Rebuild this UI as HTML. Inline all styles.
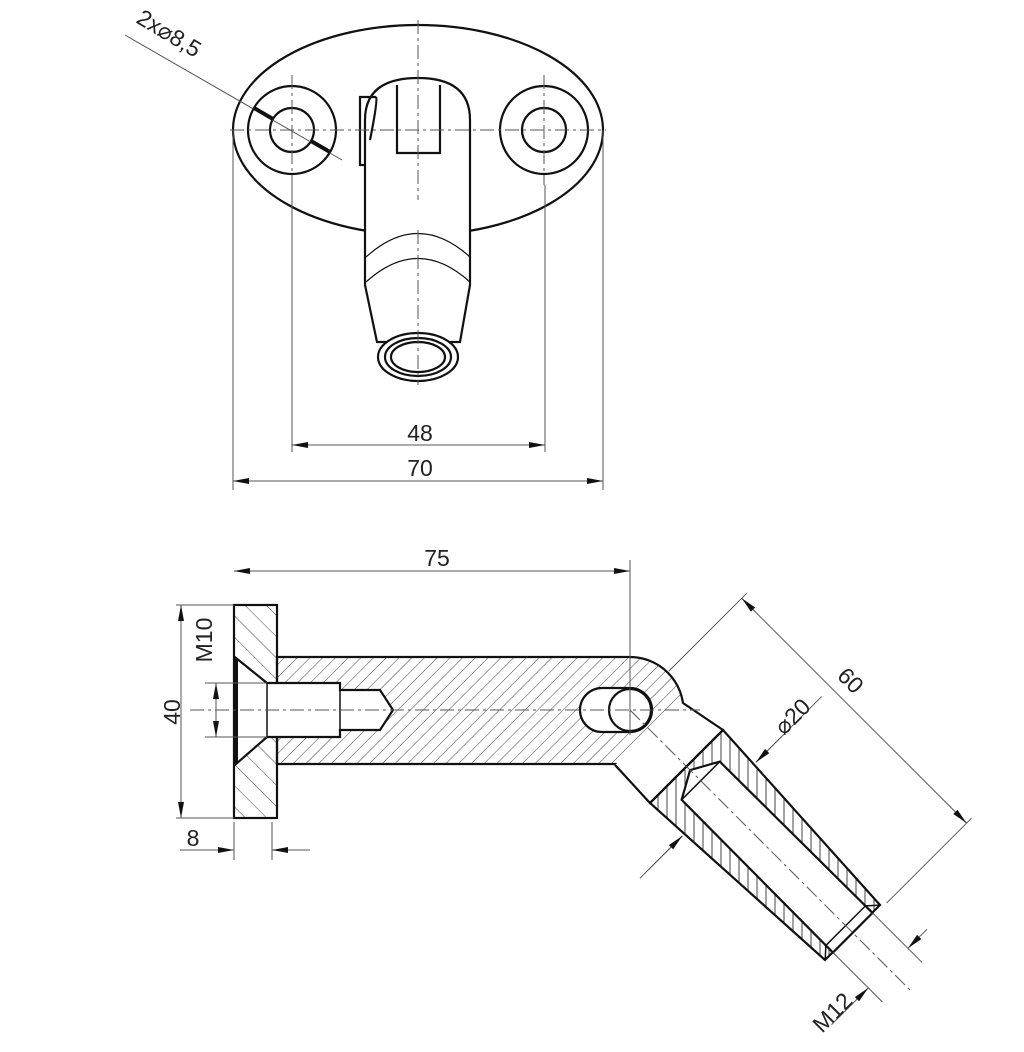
<!DOCTYPE html>
<html><head><style>body{margin:0;background:#fff}svg{display:block}</style></head><body>
<svg width="1024" height="1052" viewBox="0 0 1024 1052" xmlns="http://www.w3.org/2000/svg" font-family="Liberation Sans, sans-serif">
<defs>
<marker id="a" viewBox="0 0 16 6" refX="16" refY="3" markerWidth="16" markerHeight="6" markerUnits="userSpaceOnUse" orient="auto-start-reverse"><path d="M0,0 L16,3 L0,6 Z" fill="#111"/></marker>
<pattern id="h1" width="9" height="9" patternUnits="userSpaceOnUse" patternTransform="rotate(45)"><line x1="0" y1="0" x2="0" y2="9" stroke="#444" stroke-width="1"/></pattern>
<pattern id="h2" width="15" height="15" patternUnits="userSpaceOnUse" patternTransform="rotate(-45)"><line x1="0" y1="0" x2="0" y2="15" stroke="#444" stroke-width="1"/></pattern>
<pattern id="h3" width="9" height="9" patternUnits="userSpaceOnUse"><line x1="1" y1="0" x2="1" y2="9" stroke="#444" stroke-width="1"/></pattern>
</defs>
<g fill="none" stroke="#111" stroke-width="2.2">
<ellipse cx="418" cy="130" rx="185" ry="105" fill="#fff"/>
<circle cx="292" cy="130" r="44"/><circle cx="292" cy="130" r="22"/>
<circle cx="544" cy="130" r="44"/><circle cx="544" cy="130" r="22"/>
<path d="M365,285 L365,120 Q365,78 418,78 Q470,78 470,120 L470,285 L460,342 L377,342 Z" fill="#fff"/>
<path d="M397,85 L397,153 L440,153 L440,85"/>
<path d="M376,97 L360,97 L360,165 L364,165 M376,97 Q378,100 370,140"/>
<path d="M366,257 Q418,210 470,257" stroke-width="1.2"/>
<path d="M366,282 Q418,235 470,282" stroke-width="1.2"/>
<ellipse cx="418" cy="357" rx="40" ry="24" fill="#fff"/>
<ellipse cx="418" cy="357" rx="33" ry="19"/>
<ellipse cx="418" cy="357" rx="27" ry="15"/>
</g>
<g stroke="#555" stroke-width="1" fill="none">
<path d="M230,130 H606 M418,20 V200 M418,230 V385 M292,75 V185 M544,75 V185" stroke-dasharray="14 4 3 4"/>
<path d="M233,130 V490 M603,130 V490 M292,185 V452 M545,185 V452"/>
<line x1="292" y1="445" x2="545" y2="445" marker-start="url(#a)" marker-end="url(#a)"/>
<line x1="233" y1="481" x2="603" y2="481" marker-start="url(#a)" marker-end="url(#a)"/>
<line x1="125" y1="35" x2="342" y2="160"/>
<path d="M254,108 L273,119 M311,141 L330,152" stroke="#111" stroke-width="4"/>
</g>
<text x="135" y="22" font-size="23" fill="#222" transform="rotate(31 135 22)">2x⌀8,5</text>
<text x="420" y="441" font-size="23" fill="#222" text-anchor="middle">48</text>
<text x="420" y="476" font-size="23" fill="#222" text-anchor="middle">70</text>

<g stroke="#111" stroke-width="2.2">
<rect x="234" y="605" width="43" height="213" fill="url(#h2)"/>
<path d="M277,657 H630 A53,53 0 0 1 630,764 H277 Z" fill="url(#h1)"/>
<path d="M236,658 L267,683 H340 V690 H380 L393,710 L380,730 H340 V737 H267 L236,764 Z" fill="#fff"/>
<path d="M236,658 V764" stroke-width="4"/>
<path d="M340,683 V737 M267,683 V737" stroke-width="1.5" fill="none"/>
<path d="M602,688 H630 A22,22 0 0 1 630,732 H602 A22,22 0 0 1 602,688 Z" fill="#fff"/>
<circle cx="630" cy="710" r="21" fill="none"/>
</g>
<g stroke="#111" stroke-width="2.2">
<path d="M683,703 L723,730 L650,803 L615,765" fill="#fff"/>
<path d="M723,730 L880,905 L825,960 L650,803 Z" fill="url(#h3)"/>
</g>
<g transform="translate(630 710) rotate(45)" stroke="#111" stroke-width="2.2">
<path d="M100,-27 L315,-28 L315,28 L100,27 L85,0 Z" fill="#fff"/>
<path d="M100,-27 V27" stroke-width="1.5"/>
<path d="M305,-28 L315,-39 M305,28 L315,39 M305,-28 V28" stroke-width="1.5" fill="none"/>
</g>
<g stroke="#555" stroke-width="1" fill="none">
<path d="M190,710 H700" stroke-dasharray="14 4 3 4"/>
<path d="M630,560 V735"/>
<path d="M272,822 V860 M234,822 V860 M176,605 H234 M176,818 H234 M205,683 H267 M205,737 H267"/>
<line x1="181" y1="605" x2="181" y2="818" marker-start="url(#a)" marker-end="url(#a)"/>
<line x1="216" y1="683" x2="216" y2="737" marker-start="url(#a)" marker-end="url(#a)"/>
<line x1="180" y1="850" x2="234" y2="850" marker-end="url(#a)"/>
<line x1="310" y1="850" x2="272" y2="850" marker-end="url(#a)"/>
<line x1="234" y1="571" x2="630" y2="571" marker-start="url(#a)" marker-end="url(#a)"/>
<g transform="translate(630 710) rotate(45)">
<path d="M0,0 H400" stroke-dasharray="14 4 3 4"/>
<path d="M0,-165 V-55 M318,-165 V-45 M315,-28 H385 M315,28 H385 M126,-145 V-52 M126,52 V112"/>
<line x1="0" y1="-158" x2="318" y2="-158" marker-start="url(#a)" marker-end="url(#a)"/>
<line x1="126" y1="-90" x2="126" y2="-52" marker-end="url(#a)"/>
<line x1="126" y1="100" x2="126" y2="52" marker-end="url(#a)"/>
<line x1="365" y1="-55" x2="365" y2="-28" marker-end="url(#a)"/>
<line x1="365" y1="80" x2="365" y2="28" marker-end="url(#a)"/>
</g>
</g>
<text x="0" y="0" font-size="23" fill="#222" transform="translate(180 712) rotate(-90)" text-anchor="middle">40</text>
<text x="0" y="0" font-size="23" fill="#222" transform="translate(212 640) rotate(-90)" text-anchor="middle">M10</text>
<text x="193" y="846" font-size="23" fill="#222" text-anchor="middle">8</text>
<text x="437" y="566" font-size="23" fill="#222" text-anchor="middle">75</text>
<text x="0" y="0" font-size="23" fill="#222" transform="translate(845 686) rotate(45)" text-anchor="middle">60</text>
<text x="0" y="0" font-size="23" fill="#222" transform="translate(798 722) rotate(-45)" text-anchor="middle">⌀20</text>
<text x="0" y="0" font-size="23" fill="#222" transform="translate(838 1018) rotate(-45)" text-anchor="middle">M12</text>
</svg>
</body></html>
